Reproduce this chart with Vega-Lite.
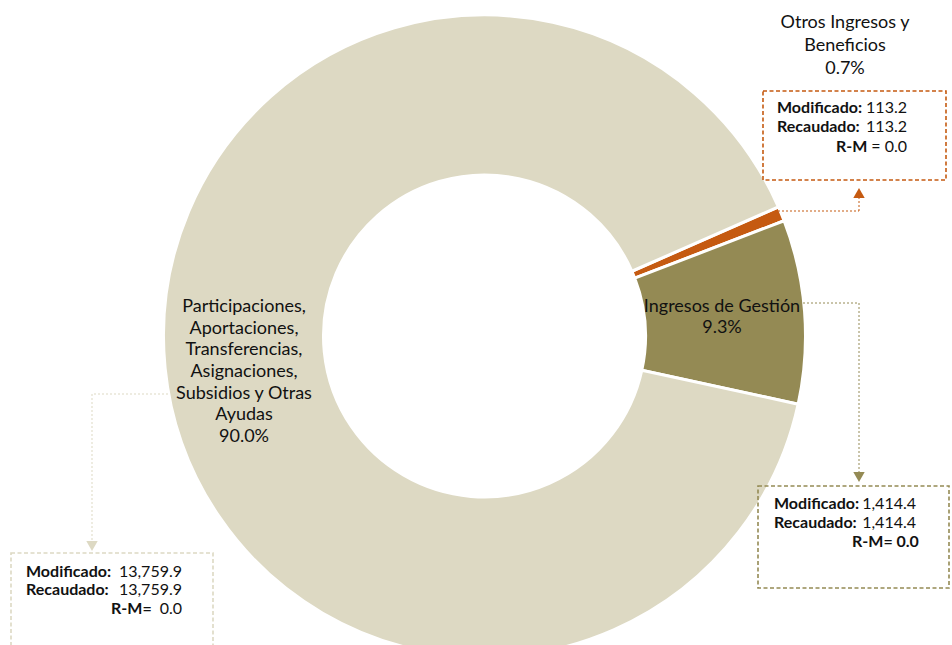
{
  "$schema": "https://vega.github.io/schema/vega-lite/v6.json",
  "width": 935,
  "height": 618,
  "autosize": {"type": "none"},
  "padding": {"left": 17, "top": 27, "right": 0, "bottom": 0},
  "background": "white",
  "config": {"view": {"stroke": null}, "font": "Lato"},
  "datasets": {
    "ingresos": [
      {"concepto": "Otros", "modificado": 113.2, "recaudado": 113.2, "orden": 1},
      {"concepto": "Gestion", "modificado": 1414.4, "recaudado": 1414.4, "orden": 2},
      {"concepto": "Participaciones", "modificado": 13759.9, "recaudado": 13759.9, "orden": 3}
    ],
    "guias": [
      {"concepto": "Otros", "x": 778, "y": 211, "x2": 859, "y2": 211},
      {"concepto": "Otros", "x": 859, "y": 211, "x2": 859, "y2": 197},
      {"concepto": "Gestion", "x": 803, "y": 303, "x2": 859, "y2": 303},
      {"concepto": "Gestion", "x": 859, "y": 303, "x2": 859, "y2": 472},
      {"concepto": "Participaciones", "x": 168, "y": 394, "x2": 92, "y2": 394},
      {"concepto": "Participaciones", "x": 92, "y": 394, "x2": 92, "y2": 541}
    ],
    "flechas": [
      {"concepto": "Otros", "x": 859, "y": 193, "dir": "arriba"},
      {"concepto": "Gestion", "x": 859, "y": 477, "dir": "abajo"},
      {"concepto": "Participaciones", "x": 92, "y": 546, "dir": "abajo"}
    ],
    "cajas": [
      {"concepto": "Otros", "x": 763, "x2": 946, "y": 91, "y2": 180},
      {"concepto": "Gestion", "x": 758, "x2": 949, "y": 486, "y2": 588},
      {"concepto": "Participaciones", "x": 11, "x2": 213, "y": 553, "y2": 690}
    ],
    "textos": [
      {"tipo": "titulo", "x": 845, "y": 23, "t": "Otros Ingresos y"},
      {"tipo": "titulo", "x": 845, "y": 46, "t": "Beneficios"},
      {"tipo": "titulo", "x": 845, "y": 69, "t": "0.7%"},
      {"tipo": "titulo", "x": 722, "y": 307, "t": "Ingresos de Gestión"},
      {"tipo": "titulo", "x": 722, "y": 328, "t": "9.3%"},
      {"tipo": "titulo", "x": 244, "y": 307, "t": "Participaciones,"},
      {"tipo": "titulo", "x": 244, "y": 329, "t": "Aportaciones,"},
      {"tipo": "titulo", "x": 244, "y": 350, "t": "Transferencias,"},
      {"tipo": "titulo", "x": 244, "y": 372, "t": "Asignaciones,"},
      {"tipo": "titulo", "x": 244, "y": 394, "t": "Subsidios y Otras"},
      {"tipo": "titulo", "x": 244, "y": 415, "t": "Ayudas"},
      {"tipo": "titulo", "x": 244, "y": 437, "t": "90.0%"},
      {"tipo": "etiqueta", "x": 777, "y": 108, "t": "Modificado:"},
      {"tipo": "etiqueta", "x": 777, "y": 127, "t": "Recaudado:"},
      {"tipo": "etiqueta", "x": 836, "y": 147, "t": "R-M"},
      {"tipo": "etiqueta", "x": 774, "y": 504, "t": "Modificado:"},
      {"tipo": "etiqueta", "x": 774, "y": 523, "t": "Recaudado:"},
      {"tipo": "etiqueta", "x": 852, "y": 542, "t": "R-M= 0.0"},
      {"tipo": "etiqueta", "x": 26, "y": 572, "t": "Modificado:"},
      {"tipo": "etiqueta", "x": 26, "y": 590, "t": "Recaudado:"},
      {"tipo": "etiqueta", "x": 111, "y": 609, "t": "R-M="},
      {"tipo": "valor", "x": 907, "y": 108, "t": "113.2"},
      {"tipo": "valor", "x": 907, "y": 127, "t": "113.2"},
      {"tipo": "valor", "x": 907, "y": 147, "t": "= 0.0"},
      {"tipo": "valor", "x": 916, "y": 504, "t": "1,414.4"},
      {"tipo": "valor", "x": 916, "y": 523, "t": "1,414.4"},
      {"tipo": "valor", "x": 182, "y": 572, "t": "13,759.9"},
      {"tipo": "valor", "x": 182, "y": 590, "t": "13,759.9"},
      {"tipo": "valor", "x": 182, "y": 609, "t": "0.0"}
    ]
  },
  "layer": [
    {
      "data": {"name": "ingresos"},
      "mark": {"type": "arc", "innerRadius": 161, "outerRadius": 321, "stroke": "white", "strokeWidth": 3},
      "encoding": {
        "theta": {"field": "recaudado", "type": "quantitative", "stack": true, "scale": {"range": [1.157, 7.44]}},
        "order": {"field": "orden", "type": "quantitative"},
        "color": {
          "field": "concepto", "type": "nominal", "legend": null,
          "scale": {"domain": ["Otros", "Gestion", "Participaciones"], "range": ["#C55A11", "#948A54", "#DDD9C3"]}
        }
      }
    },
    {
      "data": {"name": "cajas"},
      "mark": {"type": "rect", "filled": false, "strokeWidth": 1.6, "strokeDash": [4, 2.5]},
      "encoding": {
        "x": {"field": "x", "type": "quantitative", "scale": {"domain": [17, 952], "nice": false, "zero": false}, "axis": null},
        "x2": {"field": "x2"},
        "y": {"field": "y", "type": "quantitative", "scale": {"domain": [27, 645], "nice": false, "zero": false, "reverse": true}, "axis": null},
        "y2": {"field": "y2"},
        "color": {"field": "concepto", "type": "nominal", "legend": null}
      }
    },
    {
      "data": {"name": "guias"},
      "mark": {"type": "rule", "strokeWidth": 1, "strokeDash": [2, 2]},
      "encoding": {
        "x": {"field": "x", "type": "quantitative", "scale": {"domain": [17, 952], "nice": false, "zero": false}, "axis": null},
        "x2": {"field": "x2"},
        "y": {"field": "y", "type": "quantitative", "scale": {"domain": [27, 645], "nice": false, "zero": false, "reverse": true}, "axis": null},
        "y2": {"field": "y2"},
        "color": {"field": "concepto", "type": "nominal", "legend": null}
      }
    },
    {
      "data": {"name": "flechas"},
      "mark": {"type": "point", "filled": true, "opacity": 1, "size": 130},
      "encoding": {
        "x": {"field": "x", "type": "quantitative", "scale": {"domain": [17, 952], "nice": false, "zero": false}, "axis": null},
        "y": {"field": "y", "type": "quantitative", "scale": {"domain": [27, 645], "nice": false, "zero": false, "reverse": true}, "axis": null},
        "shape": {"field": "dir", "type": "nominal", "legend": null, "scale": {"domain": ["arriba", "abajo"], "range": ["triangle-up", "triangle-down"]}},
        "color": {"field": "concepto", "type": "nominal", "legend": null}
      }
    },
    {
      "data": {"name": "textos"},
      "transform": [{"filter": "datum.tipo === 'titulo'"}],
      "mark": {"type": "text", "align": "center", "baseline": "middle", "fontSize": 18, "color": "#111111"},
      "encoding": {
        "x": {"field": "x", "type": "quantitative", "scale": {"domain": [17, 952], "nice": false, "zero": false}, "axis": null},
        "y": {"field": "y", "type": "quantitative", "scale": {"domain": [27, 645], "nice": false, "zero": false, "reverse": true}, "axis": null},
        "text": {"field": "t", "type": "nominal"}
      }
    },
    {
      "data": {"name": "textos"},
      "transform": [{"filter": "datum.tipo === 'etiqueta'"}],
      "mark": {"type": "text", "align": "left", "baseline": "middle", "fontSize": 16, "fontWeight": "bold", "color": "#111111"},
      "encoding": {
        "x": {"field": "x", "type": "quantitative", "scale": {"domain": [17, 952], "nice": false, "zero": false}, "axis": null},
        "y": {"field": "y", "type": "quantitative", "scale": {"domain": [27, 645], "nice": false, "zero": false, "reverse": true}, "axis": null},
        "text": {"field": "t", "type": "nominal"}
      }
    },
    {
      "data": {"name": "textos"},
      "transform": [{"filter": "datum.tipo === 'valor'"}],
      "mark": {"type": "text", "align": "right", "baseline": "middle", "fontSize": 16, "color": "#111111"},
      "encoding": {
        "x": {"field": "x", "type": "quantitative", "scale": {"domain": [17, 952], "nice": false, "zero": false}, "axis": null},
        "y": {"field": "y", "type": "quantitative", "scale": {"domain": [27, 645], "nice": false, "zero": false, "reverse": true}, "axis": null},
        "text": {"field": "t", "type": "nominal"}
      }
    }
  ]
}
